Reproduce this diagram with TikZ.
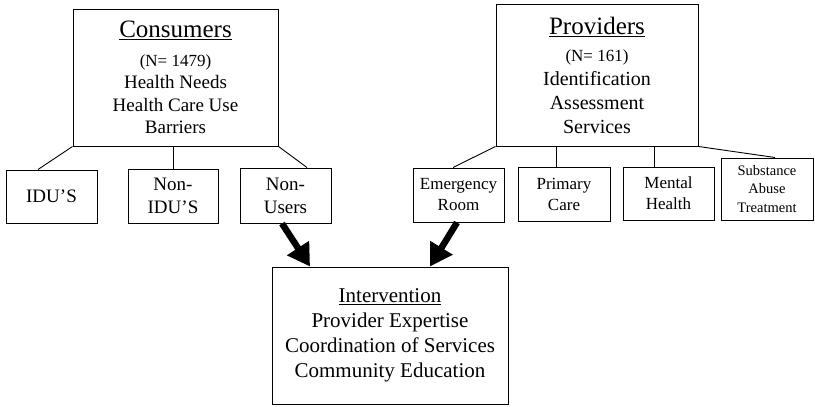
\documentclass[tikz,border=0pt]{standalone}
\usepackage{fontspec}
\setmainfont{Liberation Serif}
\usetikzlibrary{arrows.meta}
\newcommand{\fs}[2]{\fontsize{#1}{#2}\selectfont}
\begin{document}
\begin{tikzpicture}[x=1pt,y=-1pt,
  box/.style={draw, line width=1pt, inner sep=0pt, align=center},
  link/.style={line width=0.9pt},
  bigarrow/.style={line width=6.5pt, -{Triangle[length=22pt,width=25pt]}}]
\useasboundingbox (0,0) rectangle (815,407);

% top-level boxes
\node[box, minimum width=205pt, minimum height=137pt, font=\fs{19}{22.5}] (cons) at (175.5,77.5)
  {{\fs{25}{25}\underline{Consumers}}\\[6pt]{\fs{17}{22.5}(N= 1479)}\\Health Needs\\Health Care Use\\Barriers};
\node[box, minimum width=202pt, minimum height=142pt, font=\fs{20}{24}] (prov) at (597,75)
  {{\fs{25}{25}\underline{Providers}}\\[3pt]{\fs{17}{24}(N= 161)}\\Identification\\Assessment\\Services};

% consumer groups
\node[box, minimum width=91pt, minimum height=53pt, font=\fs{19}{23}] (idu) at (51.5,196.5) {IDU'S};
\node[box, minimum width=90pt, minimum height=54pt, font=\fs{19}{23}] (nonidu) at (173,196) {Non-\\IDU'S};
\node[box, minimum width=91pt, minimum height=55pt, font=\fs{19}{23}] (nonusers) at (285.5,195.5) {Non-\\Users};

% provider settings
\node[box, minimum width=91pt, minimum height=54pt, font=\fs{17}{21}] (er) at (458.5,195) {Emergency\\Room};
\node[box, minimum width=92pt, minimum height=54pt, font=\fs{17}{21}] (prim) at (564,194) {Primary\\Care};
\node[box, minimum width=91pt, minimum height=53pt, font=\fs{17}{21}] (ment) at (668.5,193.5) {Mental\\Health};
\node[box, minimum width=92pt, minimum height=62pt, font=\fs{14.5}{18.5}] (subst) at (767,189) {Substance\\Abuse\\Treatment};

% intervention
\node[box, minimum width=236pt, minimum height=137pt, font=\fs{21}{25}] (int) at (390,335.5)
  {\underline{Intervention}\\Provider Expertise\\Coordination of Services\\Community Education};

% tree links
\draw[link] (cons.south west) -- ([xshift=-13.5pt]idu.north);
\draw[link] (nonidu.north |- cons.south) -- (nonidu.north);
\draw[link] (cons.south east) -- ([xshift=21.5pt]nonusers.north);
\draw[link] (prov.south west) -- ([xshift=-5.5pt]er.north);
\draw[link] ([xshift=-8pt]prim.north |- prov.south) -- ([xshift=-8pt]prim.north);
\draw[link] ([xshift=-14.5pt]ment.north |- prov.south) -- ([xshift=-14.5pt]ment.north);
\draw[link] (prov.south east) -- ([xshift=8pt]subst.north);

% flows into the intervention
\draw[bigarrow] ([xshift=-3.5pt]nonusers.south) -- ([xshift=-80pt]int.north);
\draw[bigarrow] ([xshift=-1.5pt]er.south) -- ([xshift=40pt]int.north);
\end{tikzpicture}
\end{document}
